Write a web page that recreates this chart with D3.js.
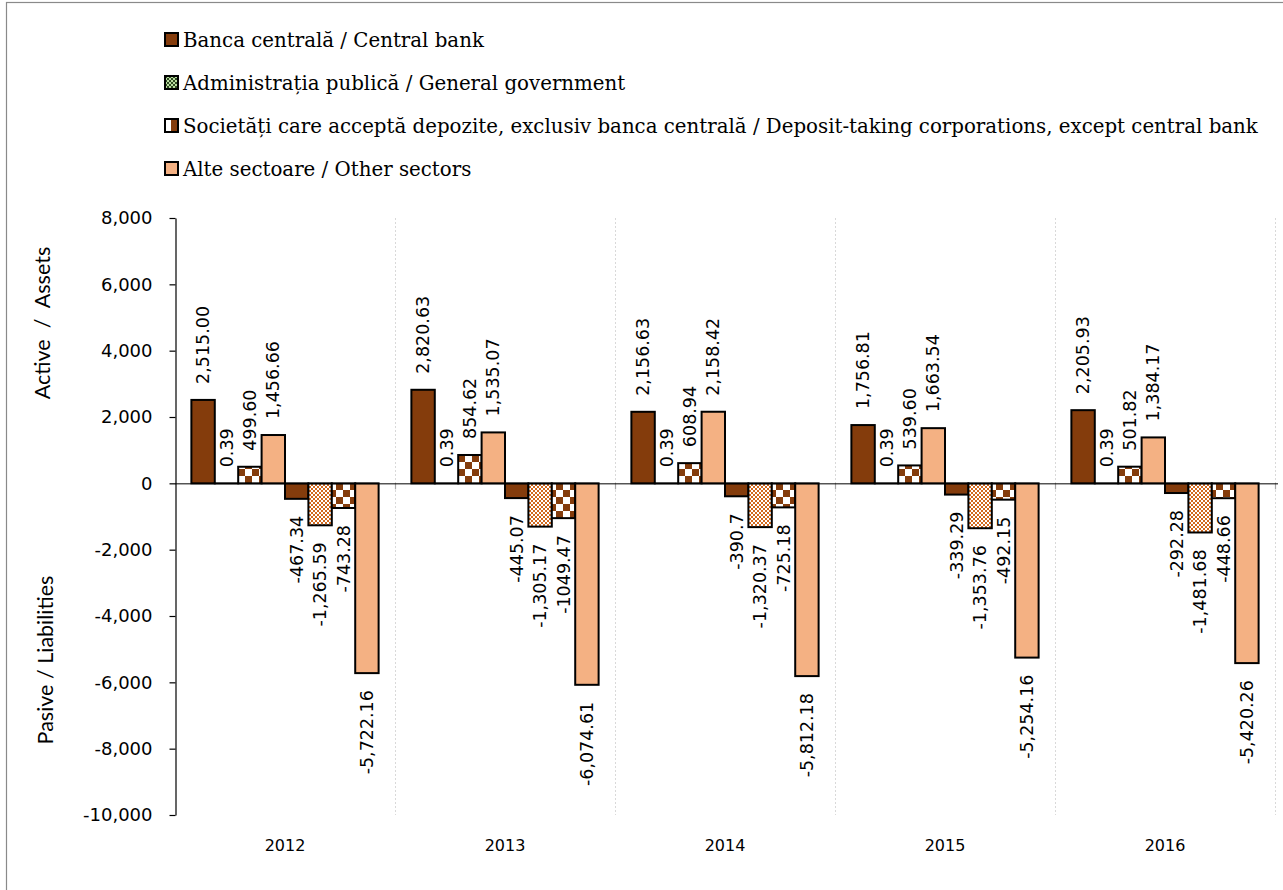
<!DOCTYPE html>
<html>
<head>
<meta charset="utf-8">
<script src="https://cdn.jsdelivr.net/npm/d3@7"></script>
<style>
  body { margin: 0; background: #fff; }
  svg { display: block; }
</style>
</head>
<body>
<svg id="chart" width="1283" height="890"></svg>
<script>
// ---------- data ----------
const years = ["2012", "2013", "2014", "2015", "2016"];
const seriesNames = [
  "Banca centrală / Central bank",
  "Administrația publică / General government",
  "Societăți care acceptă depozite, exclusiv banca centrală / Deposit-taking corporations, except central bank",
  "Alte sectoare / Other sectors"
];
// Assets (Active)
const assetsCentralBank = [2515.00, 2820.63, 2156.63, 1756.81, 2205.93];
const assetsGovernment  = [0.39, 0.39, 0.39, 0.39, 0.39];
const assetsDeposit     = [499.60, 854.62, 608.94, 539.60, 501.82];
const assetsOther       = [1456.66, 1535.07, 2158.42, 1663.54, 1384.17];
// Liabilities (Pasive)
const liabCentralBank = [-467.34, -445.07, -390.7, -339.29, -292.28];
const liabGovernment  = [-1265.59, -1305.17, -1320.37, -1353.76, -1481.68];
const liabDeposit     = [-743.28, -1049.47, -725.18, -492.15, -448.66];
const liabOther       = [-5722.16, -6074.61, -5812.18, -5254.16, -5420.26];
// Data-label texts as printed
const lblAssetsCentralBank = ["2,515.00", "2,820.63", "2,156.63", "1,756.81", "2,205.93"];
const lblAssetsGovernment  = ["0.39", "0.39", "0.39", "0.39", "0.39"];
const lblAssetsDeposit     = ["499.60", "854.62", "608.94", "539.60", "501.82"];
const lblAssetsOther       = ["1,456.66", "1,535.07", "2,158.42", "1,663.54", "1,384.17"];
const lblLiabCentralBank = ["-467.34", "-445.07", "-390.7", "-339.29", "-292.28"];
const lblLiabGovernment  = ["-1,265.59", "-1,305.17", "-1,320.37", "-1,353.76", "-1,481.68"];
const lblLiabDeposit     = ["-743.28", "-1049.47", "-725.18", "-492.15", "-448.66"];
const lblLiabOther       = ["-5,722.16", "-6,074.61", "-5,812.18", "-5,254.16", "-5,420.26"];
const yTicks = [-10000, -8000, -6000, -4000, -2000, 0, 2000, 4000, 6000, 8000];

// ---------- build table ----------
const seriesKeys = ["aCB", "aGG", "aDT", "aOS", "lCB", "lGG", "lDT", "lOS"];
const seriesVals = [assetsCentralBank, assetsGovernment, assetsDeposit, assetsOther,
                    liabCentralBank, liabGovernment, liabDeposit, liabOther];
const seriesLbls = [lblAssetsCentralBank, lblAssetsGovernment, lblAssetsDeposit, lblAssetsOther,
                    lblLiabCentralBank, lblLiabGovernment, lblLiabDeposit, lblLiabOther];
const seriesFill = ["#843C0C", "url(#dots)", "url(#checker)", "#F4B183",
                    "#843C0C", "url(#dots)", "url(#checker)", "#F4B183"];

const rows = [];
years.forEach((yr, i) => {
  seriesKeys.forEach((k, j) => {
    rows.push({ year: yr, key: k, value: seriesVals[j][i], label: seriesLbls[j][i], fill: seriesFill[j] });
  });
});

// ---------- svg ----------
const svg = d3.select("#chart");
const defs = svg.append("defs");

// checkerboard pattern
const chk = defs.append("pattern").attr("id", "checker")
  .attr("patternUnits", "userSpaceOnUse").attr("width", 14).attr("height", 14);
chk.append("rect").attr("width", 14).attr("height", 14).attr("fill", "#fff");
chk.append("rect").attr("width", 7).attr("height", 7).attr("fill", "#843C0C");
chk.append("rect").attr("x", 7).attr("y", 7).attr("width", 7).attr("height", 7).attr("fill", "#843C0C");

// fine dotted pattern
const dots = defs.append("pattern").attr("id", "dots")
  .attr("patternUnits", "userSpaceOnUse").attr("width", 4).attr("height", 4);
dots.append("rect").attr("width", 4).attr("height", 4).attr("fill", "#fff");
dots.append("rect").attr("x", 0).attr("y", 0).attr("width", 2).attr("height", 2).attr("fill", "#D2691E");
dots.append("rect").attr("x", 2).attr("y", 2).attr("width", 2).attr("height", 2).attr("fill", "#D2691E");

// legend pattern for government icon
const lg = defs.append("pattern").attr("id", "legGov")
  .attr("patternUnits", "userSpaceOnUse").attr("width", 4).attr("height", 4);
lg.append("rect").attr("width", 4).attr("height", 4).attr("fill", "#b9dca0");
lg.append("rect").attr("width", 2).attr("height", 2).attr("fill", "#2f4a22");
lg.append("rect").attr("x", 2).attr("y", 2).attr("width", 2).attr("height", 2).attr("fill", "#2f4a22");

// outer frame
svg.append("rect").attr("x", 6.5).attr("y", 2.5).attr("width", 1400).attr("height", 1000)
  .attr("fill", "none").attr("stroke", "#8a8a8a").attr("stroke-width", 1.2);

// ---------- scales ----------
const plotLeft = 175, plotRight = 1275, plotTop = 218, plotBottom = 815;
const x0 = d3.scaleBand().domain(years).range([plotLeft, plotRight]).paddingInner(0).paddingOuter(0);
const x1 = d3.scaleBand().domain(seriesKeys).range([0, x0.bandwidth()]).paddingInner(0).paddingOuter(0.7);
const y = d3.scaleLinear().domain([-10000, 8000]).range([plotBottom, plotTop]);

const sansFont = "'DejaVu Sans', sans-serif";
const titleFont = "Lato, 'Open Sans', sans-serif";
const serifFont = "'DejaVu Serif', serif";

// vertical category separators (dashed grid)
const seps = years.map((yr) => x0(yr) + x0.bandwidth());
svg.append("g").selectAll("line").data(seps).join("line")
  .attr("x1", d => d + 0.5).attr("x2", d => d + 0.5)
  .attr("y1", plotTop).attr("y2", plotBottom)
  .attr("stroke", "#d9d9d9").attr("stroke-width", 1).attr("stroke-dasharray", "2,2");

// x ticks at zero line
svg.append("g").selectAll("line").data(seps).join("line")
  .attr("x1", d => d + 0.5).attr("x2", d => d + 0.5)
  .attr("y1", y(0)).attr("y2", y(0) + 6)
  .attr("stroke", "#a6a6a6").attr("stroke-width", 1.2);

// ---------- bars ----------
const groups = svg.append("g").selectAll("g").data(years).join("g")
  .attr("transform", d => `translate(${x0(d)},0)`);

groups.selectAll("rect").data(yr => rows.filter(r => r.year === yr)).join("rect")
  .attr("x", d => x1(d.key))
  .attr("width", x1.bandwidth())
  .attr("y", d => y(Math.max(0, d.value)))
  .attr("height", d => Math.abs(y(d.value) - y(0)))
  .attr("fill", d => d.fill)
  .attr("stroke", "#000").attr("stroke-width", 2);

// zero line
svg.append("line").attr("x1", plotLeft).attr("x2", 1278)
  .attr("y1", y(0) + 0.5).attr("y2", y(0) + 0.5)
  .attr("stroke", "#000").attr("stroke-width", 1);

// data labels
groups.selectAll("text.lbl").data(yr => rows.filter(r => r.year === yr)).join("text")
  .attr("class", "lbl")
  .attr("transform", d => {
    const cx = x1(d.key) + x1.bandwidth() / 2;
    const yy = d.value >= 0 ? y(d.value) - 16 : y(d.value) + 17;
    return `translate(${cx},${yy}) rotate(-90)`;
  })
  .attr("text-anchor", d => d.value >= 0 ? "start" : "end")
  .attr("dy", "0.35em")
  .attr("font-family", sansFont).attr("font-size", 17.5).attr("fill", "#000")
  .text(d => d.label);

// ---------- y axis ----------
const fmt = v => d3.format(",")(v).replace("\u2212", "-");
const yAxis = svg.append("g").attr("transform", `translate(${plotLeft + 0.5},0)`)
  .call(d3.axisLeft(y).tickValues(yTicks).tickFormat(fmt).tickSize(6).tickSizeOuter(0).tickPadding(17));
yAxis.select(".domain").attr("stroke", "#000").attr("stroke-width", 1.2);
yAxis.selectAll(".tick line").attr("stroke", "#000").attr("stroke-width", 1.2);
yAxis.selectAll(".tick text").attr("font-family", sansFont).attr("font-size", 18).attr("fill", "#000");

// ---------- x labels ----------
svg.append("g").selectAll("text").data(years).join("text")
  .attr("x", d => x0(d) + x0.bandwidth() / 2)
  .attr("y", 851)
  .attr("text-anchor", "middle")
  .attr("font-family", sansFont).attr("font-size", 16).attr("fill", "#000")
  .text(d => d);

// ---------- axis titles ----------
svg.append("text")
  .attr("transform", "translate(50,323) rotate(-90)")
  .attr("text-anchor", "middle")
  .attr("font-family", titleFont).attr("font-size", 21.5).attr("fill", "#000")
  .style("white-space", "pre")
  .text("Active  /  Assets");
svg.append("text")
  .attr("transform", "translate(53,660) rotate(-90)")
  .attr("text-anchor", "middle")
  .attr("font-family", titleFont).attr("font-size", 21.5).attr("fill", "#000")
  .text("Pasive / Liabilities");

// ---------- legend ----------
const legFills = ["#843C0C", "url(#legGov)", null, "#F4B183"];
const leg = svg.append("g").selectAll("g").data(seriesNames).join("g")
  .attr("transform", (d, i) => `translate(165,${33 + i * 43})`);
leg.append("rect").attr("x", 0).attr("y", 0).attr("width", 13).attr("height", 13)
  .attr("fill", (d, i) => legFills[i] || "#fff").attr("stroke", "#000").attr("stroke-width", 2);
leg.filter((d, i) => i === 2).append("rect")
  .attr("x", 6).attr("y", 1).attr("width", 6).attr("height", 11).attr("fill", "#843C0C");
leg.filter((d, i) => i === 2).append("rect").attr("x", 0).attr("y", 0).attr("width", 13).attr("height", 13)
  .attr("fill", "none").attr("stroke", "#000").attr("stroke-width", 2);
leg.append("text").attr("x", 18).attr("y", 14)
  .attr("font-family", serifFont).attr("font-size", 19.8).attr("fill", "#000")
  .text(d => d);
</script>
</body>
</html>
